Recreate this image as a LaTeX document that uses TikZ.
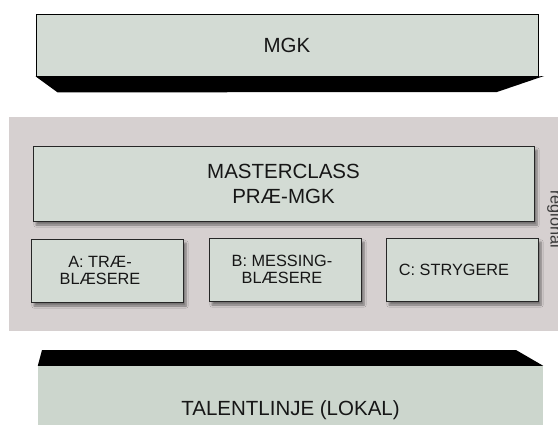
\documentclass[tikz,border=0pt]{standalone}
\usepackage{fontspec}
\setmainfont{Liberation Sans}
\usetikzlibrary{shadows.blur}

\definecolor{facefill}{HTML}{D3DBD4}
\definecolor{basefill}{HTML}{CCD6CD}
\definecolor{bandfill}{HTML}{D6D0D0}
\definecolor{inktext}{HTML}{161616}

\tikzset{
  levelface/.style={draw=black, line width=0.8pt, fill=facefill, inner sep=0pt,
    text=inktext, font=\fontsize{20.5}{25}\selectfont, align=center},
  levelbase/.style={fill=basefill, draw=none, inner sep=0pt,
    text=inktext, font=\fontsize{20.5}{25}\selectfont, align=center},
  slab/.style={fill=black, draw=none},
  bigbox/.style={draw=black!85, line width=0.9pt, fill=facefill, inner sep=0pt,
    text=inktext, font=\fontsize{20.5}{25}\selectfont, align=center,
    blur shadow={shadow xshift=3pt, shadow yshift=-4pt, shadow blur steps=6, shadow opacity=45}},
  smallbox/.style={draw=black!85, line width=0.9pt, fill=facefill, inner sep=0pt,
    text=inktext, font=\fontsize{16.3}{16.5}\selectfont, align=center,
    minimum width=152pt, minimum height=63pt,
    blur shadow={shadow xshift=3pt, shadow yshift=-4pt, shadow blur steps=6, shadow opacity=45}},
  sidelabel/.style={text=inktext!85, font=\fontsize{16.3}{18}\selectfont, inner sep=0pt}
}

\begin{document}
\begin{tikzpicture}[x=1pt, y=-1pt]
  \useasboundingbox (0,0) rectangle (558,424);
  \fill[white] (0,0) rectangle (558,424);

  % top level: MGK with its dark underside
  \node[levelface, minimum width=502pt, minimum height=62pt] (mgk) at (287,45) {MGK};
  \fill[slab] (mgk.south west) -- ++(22,16) -- (497,92) -- (544,76) -- (mgk.south east) -- cycle;

  % regional band
  \node[fill=bandfill, minimum width=549pt, minimum height=214pt, inner sep=0pt] (band) at (283.5,224) {};
  \node[sidelabel, rotate=-90, anchor=base] (regional) at (550.5,219) {regional};

  \node[bigbox, minimum width=501pt, minimum height=75pt] (master) at (283.5,183.5) {MASTERCLASS\\PRÆ-MGK};
  \node[smallbox] (tra) at (107,270.5) {A: TRÆ-\hspace*{14pt}\\BLÆSERE\hspace*{14pt}};
  \node[smallbox] (mes) at (285,269.5) {B: MESSING-\hspace*{6pt}\\BLÆSERE\hspace*{6pt}};
  \node[smallbox] (str) at (462,269.5) {C: STRYGERE\hspace*{16pt}};

  % bottom level: local talent line with its dark top
  \node[levelbase, minimum width=505pt, minimum height=88pt] (talent) at (290.5,410) {TALENTLINJE (LOKAL)};
  \fill[slab] (talent.north west) -- (42,350) -- (516,350) -- (talent.north east) -- cycle;
\end{tikzpicture}
\end{document}
